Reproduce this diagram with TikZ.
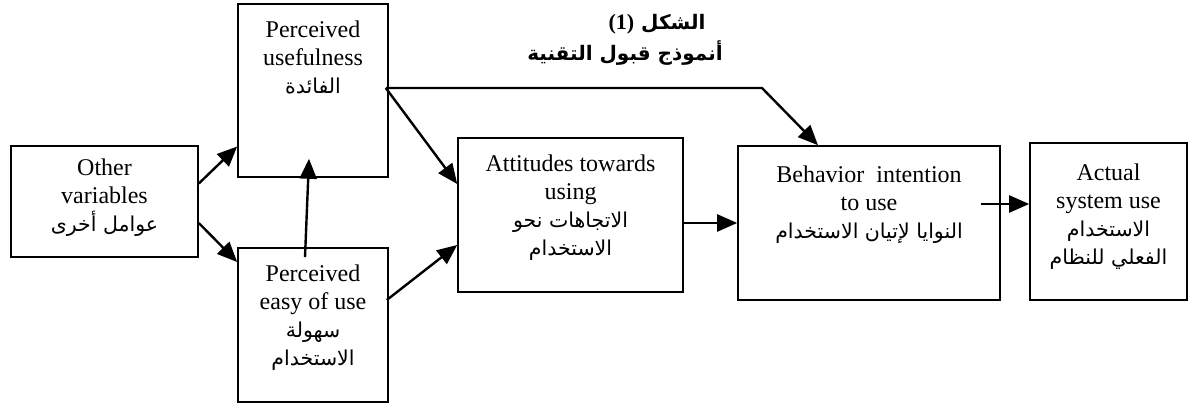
\documentclass[tikz,border=0pt]{standalone}
\usepackage{fontspec}
\setmainfont{Liberation Serif}
\newfontfamily\arabicfont[Script=Arabic]{DejaVu Sans}
\TeXXeTstate=1
\usetikzlibrary{arrows.meta}
\newcommand{\ar}[1]{{\arabicfont\fontsize{20.5}{31}\selectfont\beginR #1\endR}}
\tikzset{
  box/.style={draw, line width=1.6pt, minimum width=#1, inner sep=0pt},
  lbl/.style={align=center, font=\fontsize{24}{28}\selectfont, inner sep=0pt},
  arr/.style={line width=2.4pt, -{Triangle[length=20pt,width=17pt]}},
  ttl/.style={inner sep=0pt, font=\arabicfont\bfseries\fontsize{20}{24}\selectfont}
}
\begin{document}
\begin{tikzpicture}[x=1pt,y=-1pt]
\useasboundingbox (0,0) rectangle (1189,404);
% boxes
\node[box=187pt, minimum height=111pt] (other) at (104.5,201.5) {};
\node[box=150pt, minimum height=173pt] (pu) at (313,90.5) {};
\node[box=150pt, minimum height=154pt] (pe) at (313,325) {};
\node[box=225pt, minimum height=154pt] (att) at (570.5,215) {};
\node[box=262pt, minimum height=154pt] (bi) at (869,223) {};
\node[box=157pt, minimum height=157pt] (act) at (1108.5,221.5) {};
% texts
\node[lbl] (other-t) at (104.5,198) {Other\\variables\\\ar{عوامل أخرى}};
\node[lbl, anchor=north] (pu-t) at (313,21) {Perceived\\usefulness\\\ar{الفائدة}};
\node[lbl] (pe-t) at (313,318) {Perceived\\easy of use\\\ar{سهولة}\\\ar{الاستخدام}};
\node[lbl] (att-t) at (570.5,208) {Attitudes towards\\using\\\ar{الاتجاهات نحو}\\\ar{الاستخدام}};
\node[lbl] (bi-t) at (869,205) {Behavior\ \ intention\\to use\\\ar{النوايا لإتيان الاستخدام}};
\node[lbl] (act-t) at (1108.5,217) {Actual\\system use\\\ar{الاستخدام}\\\ar{الفعلي للنظام}};
% title
\node[ttl] (title1) at (657,24) {\beginR الشكل \beginL{\rmfamily\bfseries\fontsize{22}{24}\selectfont(1)}\endL\endR};
\node[ttl] (title2) at (625,53) {\beginR أنموذج قبول التقنية\endR};
% connectors
\coordinate (branch) at ([xshift=-3pt,yshift=2.5pt]pu.east);
\coordinate (bend) at (762,88);
\draw[arr] ([yshift=18pt]other.east) -- ([yshift=-56pt]pu.west);
\draw[arr] ([yshift=-21.5pt]other.east) -- ([yshift=63pt]pe.west);
\draw[arr] ([xshift=-8pt,yshift=-10pt]pe.north) -- ([xshift=-4pt,yshift=19pt]pu.south);
\draw[arr] (branch) -- ([yshift=31pt]att.west);
\draw[arr] (branch) -- (bend) -- ([xshift=-51pt]bi.north);
\draw[arr] ([xshift=-2pt,yshift=25pt]pe.east) -- ([yshift=-30pt]att.west);
\draw[arr] ([yshift=-8pt]att.east) -- (bi.west);
\draw[arr] ([xshift=-20pt,yshift=19pt]bi.east) -- ([yshift=17.5pt]act.west);
\end{tikzpicture}
\end{document}
